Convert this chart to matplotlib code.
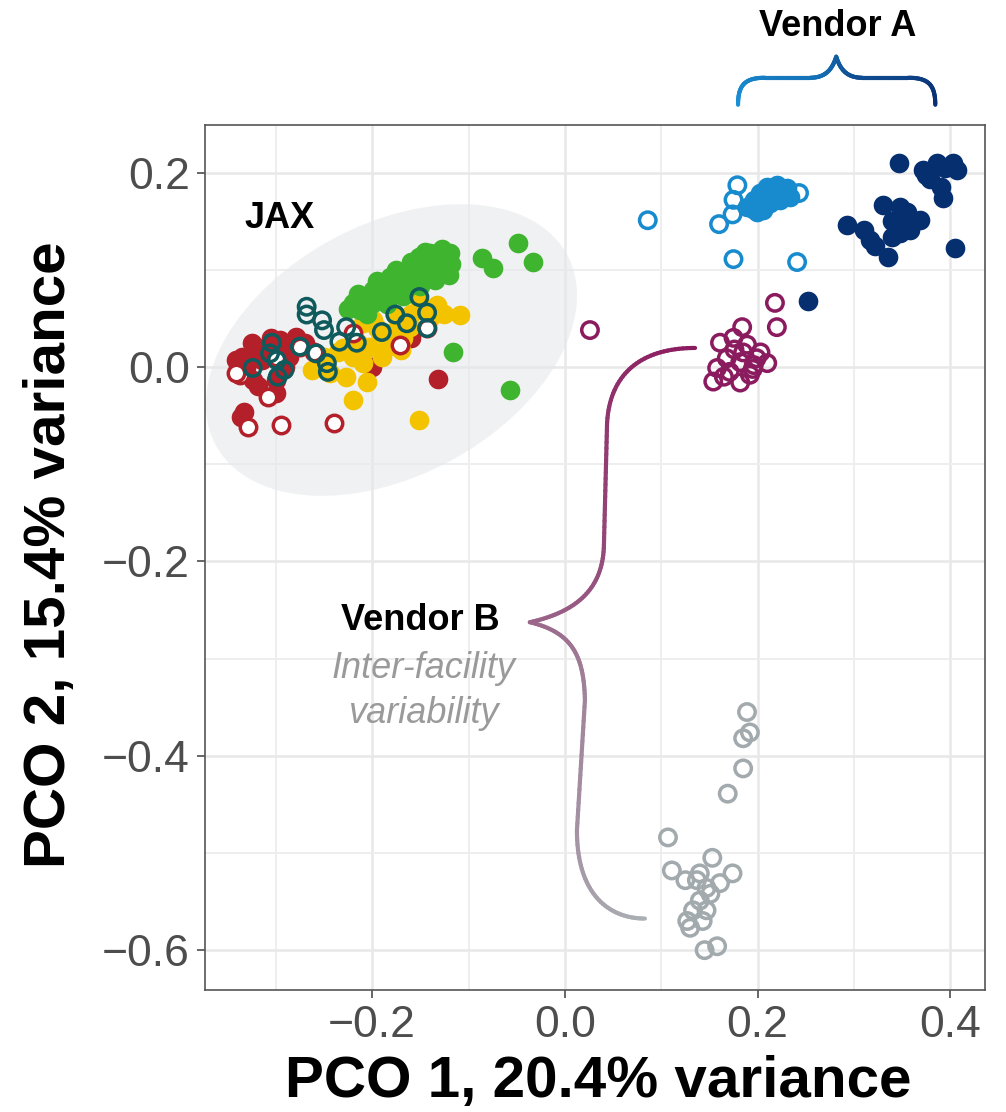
import numpy as np
import matplotlib
matplotlib.use('Agg')
import matplotlib.pyplot as plt
from matplotlib.patches import Ellipse
from matplotlib.collections import LineCollection
from matplotlib.colors import to_rgb

plt.rcParams['font.family'] = ['Liberation Sans', 'DejaVu Sans']

# ---------------- data (PCO1, PCO2) ----------------
jax_green_x = [-.049, -.033, -.086, -.075, -.116, -.057, -.220, -.210, -.199, -.185, -.171, -.158, -.143,
               -.130, -.119, -.137, -.151, -.123, -.192, -.178, -.164, -.213, -.199, -.182, -.140, -.154,
               -.171, -.125, -.145, -.165, -.205, -.118,
               -.215, -.195, -.175, -.160, -.145, -.128, -.205, -.185, -.168, -.150, -.135, -.120, -.225]
jax_green_y = [.128, .108, .112, .102, .015, -.024, .066, .072, .079, .086, .093, .097, .107,
               .113, .117, .100, .113, .103, .072, .079, .086, .059, .066, .093, .117, .090,
               .076, .110, .095, .080, .062, .106,
               .075, .088, .100, .108, .118, .121, .055, .065, .073, .083, .090, .095, .060]

jax_yellow_x = [-.109, -.220, -.151, -.192, -.175, -.161, -.151, -.133, -.210, -.203, -.262, -.244, -.227,
                -.185, -.210, -.199, -.255, -.220, -.168, -.140, -.230, -.190,
                -.235, -.215, -.195, -.180, -.160, -.145, -.125, -.170, -.250, -.205]
jax_yellow_y = [.053, -.034, -.055, .035, .052, .041, .069, .064, .045, .021, -.003, -.006, -.010,
                .021, .004, .048, .005, .010, .030, .050, .020, .010,
                .015, .025, .040, .035, .055, .060, .055, .018, .010, -.015]

jax_red_filled_x = [-.132, -.336, -.331, -.310, -.296, -.279, -.324, -.300, -.341, -.314, -.286, -.300,
                    -.140, -.133, -.333, -.290, -.320, -.200, -.160,
                    -.335, -.318, -.305, -.285, -.270, -.325]
jax_red_filled_y = [-.012, -.051, -.001, .021, .028, .031, -.013, -.013, .007, .007, .010, -.027,
                    .059, .062, -.046, .000, .015, .000, .030,
                    .010, -.020, .030, .020, .025, .025]

jax_red_open_x = [-.171, -.240, -.295, -.329, -.308, -.337, -.341, -.275, -.143, -.260, -.300, -.220]
jax_red_open_y = [.023, -.058, -.060, -.062, -.031, -.008, -.006, .021, .040, .015, .010, .035]

jax_teal_open_x = [-.268, -.268, -.252, -.250, -.227, -.304, -.324, -.299, -.291, -.298, -.275, -.247,
                   -.246, -.234, -.216, -.190, -.176, -.164, -.151, -.143, -.143, -.258, -.306]
jax_teal_open_y = [.062, .054, .048, .038, .041, .025, -.001, .007, -.003, -.010, .021, .004,
                   -.005, .026, .025, .036, .054, .045, .072, .056, .040, .014, .014]

vendA_light_filled_x = [.189, .196, .203, .210, .220, .231, .234, .223, .213, .206, .199, .215, .226,
                        .205, .218, .195, .228, .212]
vendA_light_filled_y = [.165, .172, .179, .185, .187, .184, .175, .172, .169, .162, .159, .177, .179,
                        .175, .182, .163, .176, .180]
vendA_light_open_x = [.086, .179, .175, .174, .160, .175, .241, .243, .200, .215]
vendA_light_open_y = [.151, .187, .172, .157, .147, .111, .108, .179, .170, .180]

vendA_navy_x = [.347, .372, .386, .403, .407, .379, .390, .392, .330, .348, .355, .369, .346, .348,
                .340, .293, .310, .317, .335, .405, .358, .322, .252, .395, .375, .340, .360]
vendA_navy_y = [.210, .203, .210, .210, .203, .193, .185, .174, .167, .165, .159, .151, .148, .138,
                .134, .146, .141, .131, .113, .122, .141, .124, .068, .205, .198, .150, .150]

vendB_purple_x = [.026, .218, .220, .184, .161, .175, .189, .203, .210, .196, .182, .168, .158, .154,
                  .182, .171, .192, .199, .185, .176, .165, .195]
vendB_purple_y = [.038, .066, .041, .041, .025, .030, .023, .015, .004, .002, .005, .009, -.001, -.015,
                  -.016, -.005, -.008, .009, .015, .018, -.010, -.002]

vendB_gray_x = [.189, .192, .185, .185, .169, .107, .153, .111, .125, .174, .161, .140, .147, .140,
                .133, .127, .130, .143, .147, .145, .158, .151, .137]
vendB_gray_y = [-.355, -.376, -.382, -.413, -.439, -.484, -.505, -.518, -.528, -.521, -.531, -.521,
                -.536, -.549, -.559, -.570, -.577, -.570, -.559, -.600, -.596, -.542, -.528]

x_ticks = [-0.2, 0.0, 0.2, 0.4]
y_ticks = [0.2, 0.0, -0.2, -0.4, -0.6]

# ---------------- colours ----------------
C_GREEN = '#3fb42e'
C_YELLOW = '#f4c300'
C_RED = '#b3202a'
C_TEAL = '#0e5a5c'
C_LIGHT = '#188bcf'
C_NAVY = '#062f70'
C_PURPLE = '#8b1b5f'
C_GRAY = '#a2aaae'

S_FILL = 200
S_OPEN = 140
LW_OPEN = 2.5

fig = plt.figure(figsize=(10.06, 11.12), dpi=100)
ax = fig.add_axes([205 / 1006, 1 - 990 / 1112, 780 / 1006, 865 / 1112])
ax.set_xlim(-0.3735, 0.436)
ax.set_ylim(-0.641, 0.249)

# grid
ax.set_xticks(x_ticks)
ax.set_yticks(y_ticks)
ax.set_xticks([-0.3, -0.1, 0.1, 0.3], minor=True)
ax.set_yticks([0.1, -0.1, -0.3, -0.5], minor=True)
ax.grid(True, which='major', color='#e8e8e8', lw=1.8, zorder=0)
ax.grid(True, which='minor', color='#eeeeee', lw=1.4, zorder=0)
ax.set_axisbelow(True)
ax.tick_params(which='minor', length=0)
ax.tick_params(which='major', length=6, width=1.2, color='#4d4d4d', labelsize=32,
               labelcolor='#4d4d4d', pad=5)
ax.set_xticklabels(['\u22120.2', '0.0', '0.2', '0.4'])
ax.set_yticklabels(['0.2', '0.0', '\u22120.2', '\u22120.4', '\u22120.6'])
for sp in ax.spines.values():
    sp.set_color('#555555')
    sp.set_linewidth(1.2)

# JAX ellipse
ax.add_patch(Ellipse((-0.180, 0.0175), 0.414, 0.259, angle=28, facecolor='#e4e7ea',
                     edgecolor='none', alpha=0.55, zorder=1))

# points
ax.scatter(jax_red_filled_x, jax_red_filled_y, s=S_FILL, c=C_RED, lw=0, zorder=3)
ax.scatter(jax_yellow_x, jax_yellow_y, s=S_FILL, c=C_YELLOW, lw=0, zorder=3)
ax.scatter(jax_green_x, jax_green_y, s=S_FILL, c=C_GREEN, lw=0, zorder=3)
ax.scatter(jax_red_open_x, jax_red_open_y, s=S_OPEN, facecolors='white', edgecolors=C_RED,
           lw=LW_OPEN, zorder=4)
ax.scatter(jax_teal_open_x, jax_teal_open_y, s=S_OPEN, facecolors='none', edgecolors=C_TEAL,
           lw=LW_OPEN, zorder=5)
ax.scatter(vendA_light_filled_x, vendA_light_filled_y, s=S_FILL, c=C_LIGHT, lw=0, zorder=3)
ax.scatter(vendA_light_open_x, vendA_light_open_y, s=S_OPEN, facecolors='none', edgecolors=C_LIGHT,
           lw=LW_OPEN, zorder=4)
ax.scatter(vendA_navy_x, vendA_navy_y, s=S_FILL, c=C_NAVY, lw=0, zorder=3)
ax.scatter(vendB_purple_x, vendB_purple_y, s=S_OPEN, facecolors='none', edgecolors=C_PURPLE,
           lw=LW_OPEN, zorder=4)
ax.scatter(vendB_gray_x, vendB_gray_y, s=S_OPEN, facecolors='none', edgecolors=C_GRAY,
           lw=LW_OPEN, zorder=4)


# ---------------- braces ----------------
def bez(p0, c1, c2, p1, n=40):
    t = np.linspace(0, 1, n)[:, None]
    p0, c1, c2, p1 = map(np.asarray, (p0, c1, c2, p1))
    return (1 - t) ** 3 * p0 + 3 * (1 - t) ** 2 * t * c1 + 3 * (1 - t) * t ** 2 * c2 + t ** 3 * p1


def line(p0, p1, n=20):
    t = np.linspace(0, 1, n)[:, None]
    return (1 - t) * np.asarray(p0) + t * np.asarray(p1)


def grad_line(pts, c0, c1, lw):
    segs = np.stack([pts[:-1], pts[1:]], axis=1)
    t = np.linspace(0, 1, len(segs))[:, None]
    cols = (1 - t) * np.array(to_rgb(c0)) + t * np.array(to_rgb(c1))
    lc = LineCollection(segs, colors=cols, linewidths=lw, capstyle='round', zorder=6,
                        clip_on=False)
    ax.add_collection(lc)


braceA = np.vstack([
    bez((.1797, .2698), (.1797, .2904), (.1870, .2976), (.2078, .2976)),
    line((.2078, .2976), (.2545, .2976)),
    bez((.2545, .2976), (.2701, .2976), (.2774, .3059), (.2816, .3193)),
    bez((.2816, .3193), (.2857, .3059), (.2930, .2976), (.3086, .2976)),
    line((.3086, .2976), (.3564, .2976)),
    bez((.3564, .2976), (.3771, .2976), (.3844, .2904), (.3844, .2698)),
])
grad_line(braceA, '#1a90d6', '#0a2f72', 3.0)

braceB = np.vstack([
    bez((.1351, .0196), (.0779, .0196), (.0436, -.0082), (.0436, -.0649)),
    line((.0436, -.0649), (.0405, -.1833)),
    bez((.0405, -.1833), (.0395, -.2297), (.0104, -.2523), (-.0364, -.2626)),
    bez((-.0364, -.2626), (.0073, -.2729), (.0197, -.2966), (.0208, -.3429)),
    line((.0208, -.3429), (.0125, -.4768)),
    bez((.0125, -.4768), (.0125, -.5438), (.0468, -.5675), (.0831, -.5675)),
])
grad_line(braceB, '#8b1b5f', '#aab0b4', 3.0)

# ---------------- text ----------------
FS_ANN = 26
ax.text(-0.296, 0.153, 'JAX', fontsize=FS_ANN, fontweight='bold', ha='center', va='center', zorder=7)
ax.text(0.2836, 0.350, 'Vendor A', fontsize=FS_ANN, fontweight='bold', ha='center', va='center',
        clip_on=False)
ax.text(-0.150, -0.261, 'Vendor B', fontsize=FS_ANN, fontweight='bold', ha='center', va='center')
ax.text(-0.147, -0.310, 'Inter-facility', fontsize=FS_ANN, style='italic', color='#9a9a9a',
        ha='center', va='center')
ax.text(-0.147, -0.357, 'variability', fontsize=FS_ANN, style='italic', color='#9a9a9a',
        ha='center', va='center')

fig.text(598 / 1006, 1 - 1082 / 1112, 'PCO 1, 20.4% variance', fontsize=42, fontweight='bold',
         ha='center', va='center')
fig.text(50 / 1006, 1 - 555 / 1112, 'PCO 2, 15.4% variance', fontsize=42, fontweight='bold',
         ha='center', va='center', rotation=90)

fig.savefig('out.png', dpi=100)
